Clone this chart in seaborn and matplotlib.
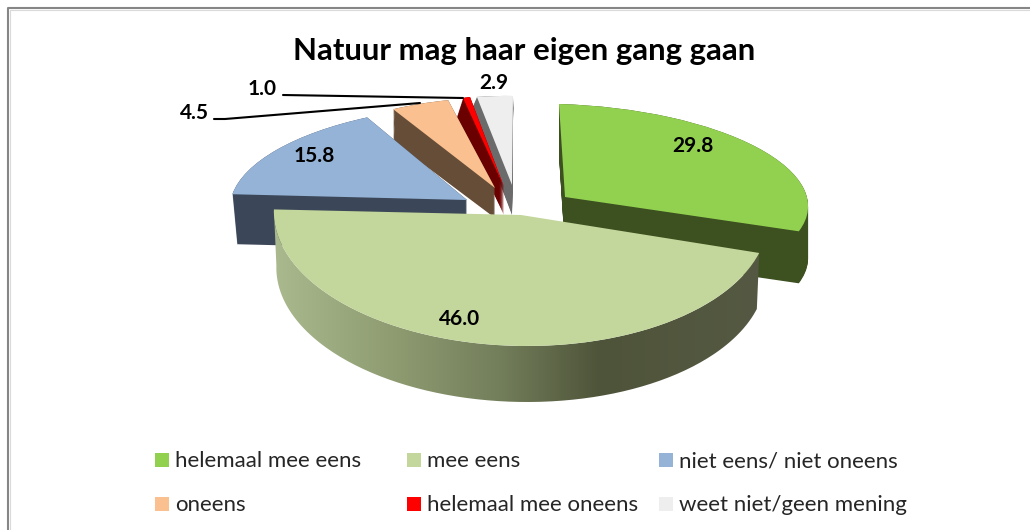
import numpy as np
import matplotlib
matplotlib.use('Agg')
import matplotlib.pyplot as plt
import seaborn as sns
from matplotlib.patches import PathPatch, Rectangle
from matplotlib.path import Path
from matplotlib.transforms import Affine2D
from matplotlib.colors import LinearSegmentedColormap

title = 'Natuur mag haar eigen gang gaan'
categories = ['helemaal mee eens', 'mee eens', 'niet eens/ niet oneens',
              'oneens', 'helemaal mee oneens', 'weet niet/geen mening']
values = [29.8, 46.0, 15.8, 4.5, 1.0, 2.9]
top_colors = ['#92d050', '#c3d69b', '#95b3d7', '#fac090', '#ff0000', '#eeeeee']
side_colors = ['#3c5020', '#4e553c', '#3b4758', '#664d38', '#6a0000', '#6b6b6b']

# hand fitted view of every slice: apex x, y, 2x2 matrix, depth, bottom scale x, y
views = [
    (565, 197, 243, -6, -7, 93, 52, 1.0, 1.0),
    (521, 215, 247, -8, 1, 131, 56, 0.99, 1.0),
    (467, 200, 236, 22, -1, 95, 50, 0.98, 1.0),
    (495, 188, 209, 4, -2, 90, 30, 1.0, 0.97),
    (504, 187, 117, -13, -3, 91, 28, 1.15, 1.10),
    (512, 185, 199, 1, -3, 89, 30, 1.15, 1.2),
]
draw_order = [5, 4, 3, 2, 0, 1]

label_pos = [(693, 146), (460, 319), (314, 156), (194, 113), (262, 89), (494, 83)]
leaders = [((214, 225, 420), (119, 119, 103)), ((283, 463), (95, 98))]
legend_x = [155, 407, 659]
legend_y = [460, 504]

sns.set_theme(style='white')
plt.rcParams['font.family'] = ['Lato', 'DejaVu Sans']


def view_transform(view, t=0.0):
    cx, cy, a, b, c, d, depth, sx, sy = view
    fx = 1 + (sx - 1) * t
    fy = 1 + (sy - 1) * t
    # screen y points down, the axis is inverted
    return Affine2D(np.array([[a * fx, b * fx, cx],
                              [-c * fy, -d * fy, cy + depth * t],
                              [0, 0, 1]]))


def draw_wedge(ax, start, value, color, trans, zorder):
    wedges, _ = ax.pie([value, 100 - value], startangle=90 - 3.6 * start,
                       counterclock=False, colors=[color, 'none'])
    wedges[1].remove()
    wedges[0].set_transform(trans + ax.transData)
    wedges[0].set_zorder(zorder)
    wedges[0].set_edgecolor('none')
    return wedges[0]


fig = plt.figure(figsize=(10.3, 5.3), dpi=100)
ax = fig.add_axes([0, 0, 1, 1])

starts = np.concatenate([[0], np.cumsum(values)[:-1]])
z = 2
for i in draw_order:
    view = views[i]
    steps = int(view[6]) + 1
    if i == 1:
        # front rim has a gradient running left to right
        angles = np.radians(90 - 3.6 * np.linspace(starts[i], starts[i] + values[i], 200))
        unit = np.column_stack([np.cos(angles), np.sin(angles)])
        rim_top = view_transform(view, 0).transform(unit)
        rim_bot = view_transform(view, 1).transform(unit)
        rim = np.vstack([rim_top, rim_bot[::-1], rim_top[:1]])
        clip = PathPatch(Path(rim), transform=ax.transData, facecolor='none', edgecolor='none')
        ax.add_patch(clip)
        cmap = LinearSegmentedColormap.from_list('rim', [
            (0.0, '#aab98e'), (0.26, '#8d9a70'), (0.47, '#727d5a'),
            (0.67, '#4e5439'), (1.0, '#555943')])
        img = ax.imshow(np.linspace(0, 1, 256)[None, :], cmap=cmap, aspect='auto',
                        extent=[rim[:, 0].min(), rim[:, 0].max(), rim[:, 1].max(), rim[:, 1].min()],
                        zorder=z)
        img.set_clip_path(clip)
        z += 1
    else:
        for t in np.linspace(1, 0, steps):
            draw_wedge(ax, starts[i], values[i], side_colors[i], view_transform(view, t), z)
            z += 1
    draw_wedge(ax, starts[i], values[i], top_colors[i], view_transform(view, 0), z)
    z += 1

for xs, ys in leaders:
    ax.plot(xs, ys, color='black', lw=1.5, zorder=z)

for val, (x, y) in zip(values, label_pos):
    ax.text(x, y, f'{val:.1f}', ha='center', va='center', fontsize=15,
            fontweight='bold', color='black', zorder=z + 1)

ax.text(524, 51, title, ha='center', va='center', fontsize=22.4, fontweight='bold',
        color='black', zorder=z + 1)

# legend runs column by column with uneven gaps, so it is placed by hand
for k, (name, color) in enumerate(zip(categories, top_colors)):
    x = legend_x[k % 3]
    y = legend_y[k // 3]
    ax.add_patch(Rectangle((x, y - 7), 14, 14, facecolor=color, edgecolor='none', zorder=z))
    ax.text(x + 20, y + 1, name, ha='left', va='center', fontsize=16, color='#262626', zorder=z)

# chart border, cut off by the crop at the bottom and the right
ax.plot([10, 10, 1030], [530, 10, 10], color='#d9d9d9', lw=0.8, zorder=z)
ax.plot([8, 8, 1030], [530, 8, 8], color='#868686', lw=1.5, zorder=z)

ax.set_aspect('auto')
ax.set_xlim(0, 1030)
ax.set_ylim(530, 0)
ax.axis('off')

fig.savefig('out.png', dpi=100, facecolor='white')
